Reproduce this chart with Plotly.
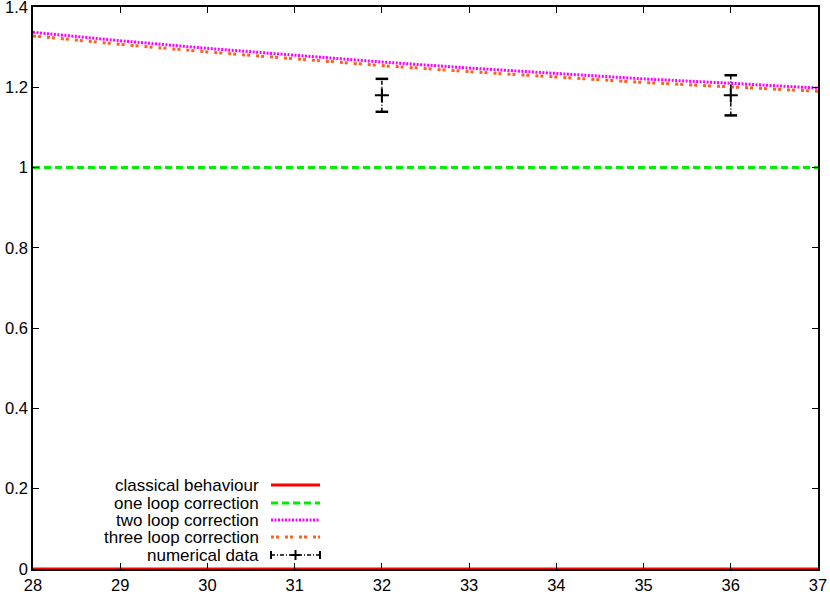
import plotly.graph_objects as go

# ---- data ----
x_vals = [28, 29, 30, 31, 32, 33, 34, 35, 36, 37]
classical = [0, 0, 0, 0, 0, 0, 0, 0, 0, 0]
one_loop = [1, 1, 1, 1, 1, 1, 1, 1, 1, 1]
two_loop = [1.337, 1.316, 1.297, 1.280, 1.263, 1.248, 1.234, 1.221, 1.210, 1.198]
three_loop = [1.328, 1.307, 1.288, 1.271, 1.254, 1.239, 1.225, 1.212, 1.201, 1.190]
num_x = [32, 36]
num_y = [1.18, 1.18]
num_err = [0.041, 0.050]

x_ticks = [28, 29, 30, 31, 32, 33, 34, 35, 36, 37]
y_ticks = [0, 0.2, 0.4, 0.6, 0.8, 1, 1.2, 1.4]
y_tick_text = ["0", "0.2", "0.4", "0.6", "0.8", "1", "1.2", "1.4"]

legend_labels = ["classical behaviour", "one loop correction", "two loop correction",
                 "three loop correction", "numerical data"]

RED = "#ff0000"
GREEN = "#00ee00"
MAGENTA = "#ff00ff"
ORANGE = "#ff6020"
FONT = "Liberation Sans, Arial, Helvetica, sans-serif"

fig = go.Figure()

fig.add_trace(go.Scatter(x=x_vals, y=one_loop, mode="lines",
                         line=dict(color=GREEN, width=3, dash="7px,4px"), showlegend=False))
fig.add_trace(go.Scatter(x=x_vals, y=two_loop, mode="lines",
                         line=dict(color=MAGENTA, width=3, dash="2px,1.5px"), showlegend=False))
fig.add_trace(go.Scatter(x=x_vals, y=three_loop, mode="lines",
                         line=dict(color=ORANGE, width=3, dash="3px,2px,3px,6px"), showlegend=False))
fig.add_trace(go.Scatter(x=x_vals, y=classical, mode="lines",
                         line=dict(color=RED, width=3), showlegend=False))

# numerical data with dash-dot error bars
ex, ey = [], []
cx, cy = [], []
for xi, yi, ei in zip(num_x, num_y, num_err):
    ex += [xi, xi, None]
    ey += [yi - ei, yi + ei, None]
    cx += [xi, xi]
    cy += [yi - ei, yi + ei]
fig.add_trace(go.Scatter(x=ex, y=ey, mode="lines",
                         line=dict(color="black", width=1.5, dash="4px,2px,1px,2px"),
                         showlegend=False))
fig.add_trace(go.Scatter(x=cx, y=cy, mode="markers",
                         marker=dict(symbol="line-ew", size=9, line=dict(color="black", width=2.5)),
                         showlegend=False))
fig.add_trace(go.Scatter(x=num_x, y=num_y, mode="markers",
                         marker=dict(symbol="cross-thin", size=10, line=dict(color="black", width=2)),
                         showlegend=False))

# ---- custom legend (gnuplot style: text right, sample left-to-right) ----
L, R, T, B = 33, 818, 7, 569
W, H = R - L, B - T
def px(x):
    return (x - L) / W
def py(y):
    return (B - y) / H

rows = [485, 503, 520, 537, 555]
styles = [dict(color=RED, width=3),
          dict(color=GREEN, width=3, dash="7px,4px"),
          dict(color=MAGENTA, width=3, dash="2px,1.5px"),
          dict(color=ORANGE, width=3, dash="3px,2px,3px,6px"),
          dict(color="black", width=1.5, dash="4px,2px,1px,2px")]
for lab, ry, st in zip(legend_labels, rows, styles):
    fig.add_annotation(x=px(260), y=py(ry), xref="paper", yref="paper",
                       text=lab, showarrow=False, xanchor="right", yanchor="middle",
                       borderpad=0,
                       font=dict(family=FONT, size=17, color="black"))
    fig.add_shape(type="line", xref="paper", yref="paper",
                  x0=px(271), x1=px(320), y0=py(ry), y1=py(ry), line=st)
# caps and cross for numerical data sample
ry = rows[-1]
for cxp in (271, 320):
    fig.add_shape(type="line", xref="paper", yref="paper",
                  x0=px(cxp), x1=px(cxp), y0=py(ry - 4), y1=py(ry + 4),
                  line=dict(color="black", width=2))
fig.add_shape(type="line", xref="paper", yref="paper",
              x0=px(295.5), x1=px(295.5), y0=py(ry - 5), y1=py(ry + 5),
              line=dict(color="black", width=2))
fig.add_shape(type="line", xref="paper", yref="paper",
              x0=px(290.5), x1=px(300.5), y0=py(ry), y1=py(ry),
              line=dict(color="black", width=2))

axis_common = dict(showline=True, linecolor="black", linewidth=1.5, mirror="ticks",
                   ticks="inside", ticklen=6, tickwidth=1, tickcolor="black",
                   showgrid=False, zeroline=False, ticklabeloverflow="allow",
                   tickfont=dict(family=FONT, size=16.5, color="black"))

fig.update_layout(
    width=830, height=595,
    margin=dict(l=L, r=830 - R, t=T, b=595 - B, autoexpand=False),
    paper_bgcolor="white", plot_bgcolor="white",
    showlegend=False,
    xaxis=dict(range=[28, 37], tickvals=x_ticks, **axis_common),
    yaxis=dict(range=[0, 1.4], tickvals=y_ticks, ticktext=y_tick_text, **axis_common),
)

fig.write_html("out.html", config={"displayModeBar": False},
               post_script="document.body.style.margin='0';document.body.style.overflow='hidden';")
